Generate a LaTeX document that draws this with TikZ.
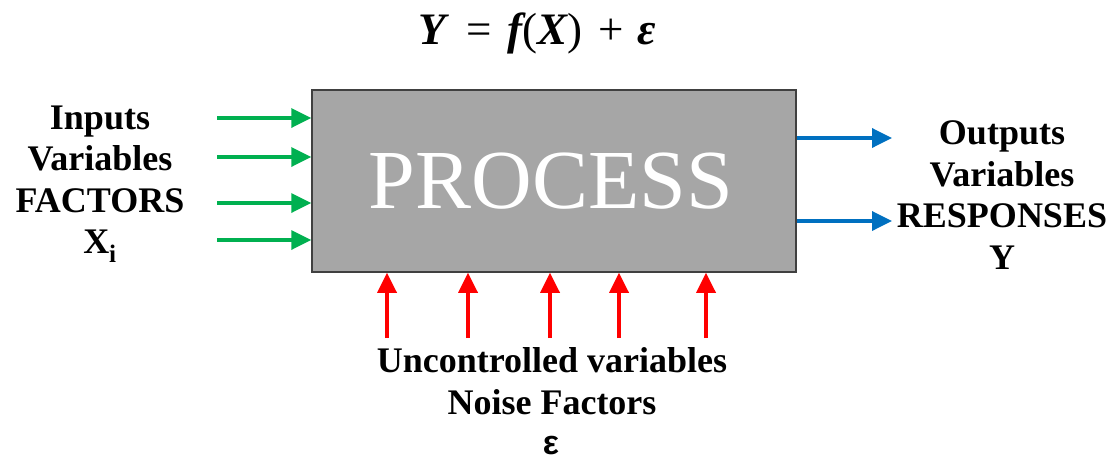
\documentclass[tikz,border=0pt]{standalone}
\usepackage{fontspec}
\setmainfont{Liberation Serif}
\newfontfamily\epsfont{Liberation Sans}
\usetikzlibrary{arrows.meta}
\definecolor{procgray}{HTML}{A6A6A6}
\definecolor{procborder}{HTML}{404040}
\definecolor{ingreen}{HTML}{00B050}
\definecolor{outblue}{HTML}{0070C0}
\definecolor{noisered}{HTML}{FF0000}
\tikzset{
  arr/.style={line width=3.5pt, -{Triangle[length=20pt,width=19pt]}},
  inarr/.style={arr, draw=ingreen, fill=ingreen},
  outarr/.style={arr, draw=outblue, fill=outblue},
  noisearr/.style={arr, draw=noisered, fill=noisered},
  lbl/.style={align=center, font=\fontsize{36}{41.5}\selectfont\bfseries, inner sep=0pt},
}
\begin{document}
\begin{tikzpicture}[x=1pt,y=-1pt]
\useasboundingbox (0,0) rectangle (1115,466);
\node[draw=procborder, line width=1.5pt, fill=procgray, minimum width=484pt, minimum height=182pt, inner sep=0pt] (proc) at (554,181) {};
\node[text=white, font=\fontsize{84}{90}\selectfont, inner sep=0pt] (ptext) at (551,181) {PROCESS};
\node[font=\fontsize{45}{48}\selectfont, inner sep=0pt] (eq) at (537,33) {{\bfseries\itshape Y}\hspace{21pt}=\hspace{15pt}{\bfseries\itshape f}({\bfseries\itshape X})\hspace{17pt}+\hspace{13pt}{\bfseries\itshape ε}};
% inputs
\node[lbl] (inlbl) at (100,184) {Inputs\\Variables\\FACTORS\\X\textsubscript{i}};
\foreach \y [count=\i] in {118,157,203,240}{
  \coordinate (i\i) at (217,\y);
  \draw[inarr] (i\i) -- (i\i -| proc.west);
}
% outputs
\node[lbl] (outlbl) at (1002,195) {Outputs\\Variables\\RESPONSES\\Y};
\foreach \y [count=\i] in {138,221}{
  \coordinate (o\i) at (892,\y);
  \draw[outarr] (o\i -| proc.east) -- (o\i);
}
% noise
\foreach \x [count=\i] in {387,468,550,619,706}{
  \coordinate (n\i) at (\x,338);
  \draw[noisearr] (n\i) -- (n\i |- proc.south);
}
\node[lbl] (noiselbl) at (552,381) {Uncontrolled variables\\Noise Factors};
\node[font=\fontsize{34}{40}\selectfont\epsfont\bfseries, inner sep=0pt] (eps) at (551,446) {ε};
\end{tikzpicture}
\end{document}
